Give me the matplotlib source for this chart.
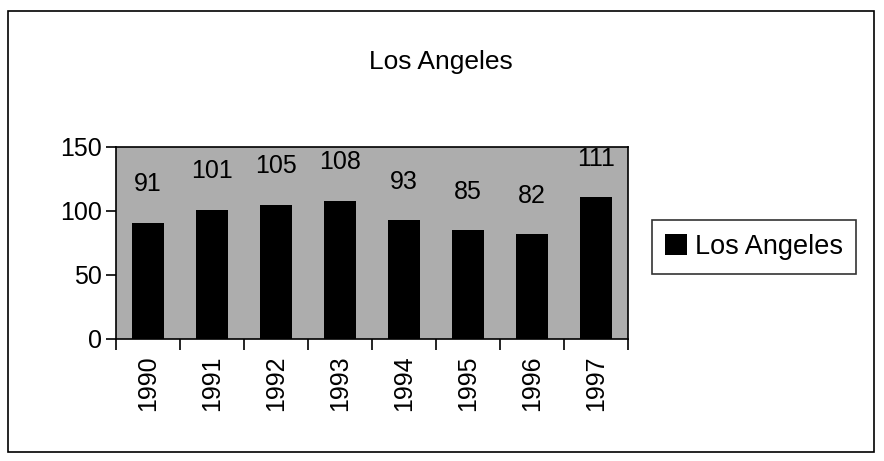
import matplotlib
matplotlib.use("Agg")
import matplotlib.pyplot as plt
from matplotlib.patches import Rectangle, Patch

years = ["1990", "1991", "1992", "1993", "1994", "1995", "1996", "1997"]
values = [91, 101, 105, 108, 93, 85, 82, 111]
series_name = "Los Angeles"
title = "Los Angeles"

plt.rcParams['font.family'] = ['Liberation Sans', 'DejaVu Sans']
FS = 18

fig = plt.figure(figsize=(8.84, 4.61), dpi=100)
fig.patch.set_facecolor('white')
fig.patches.append(Rectangle((8/884, 9/461), 866/884, 441/461, transform=fig.transFigure,
                             fill=False, edgecolor='black', linewidth=1.2))

ax = fig.add_axes([116/884, 122/461, 512/884, 192/461])
ax.set_facecolor('#adadad')
x = list(range(len(years)))
bars = ax.bar(x, values, width=0.5, color='black', label=series_name)
for xi, v in zip(x, values):
    ax.annotate(str(v), (xi, v), xytext=(0, 19), textcoords='offset points',
                ha='center', va='bottom', fontsize=FS)

ax.set_xlim(-0.5, len(years) - 0.5)
ax.set_ylim(0, 150)
ax.set_yticks([0, 50, 100, 150])
ax.tick_params(axis='y', labelsize=FS, direction='out', length=7, width=1.2, pad=3)
ax.set_xticks(x)
ax.set_xticklabels(years, rotation=90, fontsize=FS)
ax.tick_params(axis='x', length=0, pad=12)
ax.set_xticks([i - 0.5 for i in range(len(years) + 1)], minor=True)
ax.tick_params(axis='x', which='minor', direction='out', length=8, width=1.2)
for s in ax.spines.values():
    s.set_linewidth(1.2)

fig.text(441/884, 1 - 62/461, title, ha='center', va='center', fontsize=19)

leg = fig.legend(handles=[Patch(facecolor='black', label=series_name)],
                 loc='center', bbox_to_anchor=(754/884, 1 - 247/461),
                 fontsize=19.5, frameon=True, fancybox=False, edgecolor='black',
                 handlelength=0.8, handleheight=0.8, handletextpad=0.3, borderpad=0.5,
                 borderaxespad=0)
leg.get_frame().set_linewidth(1.2)

fig.savefig("out.png", dpi=100)
